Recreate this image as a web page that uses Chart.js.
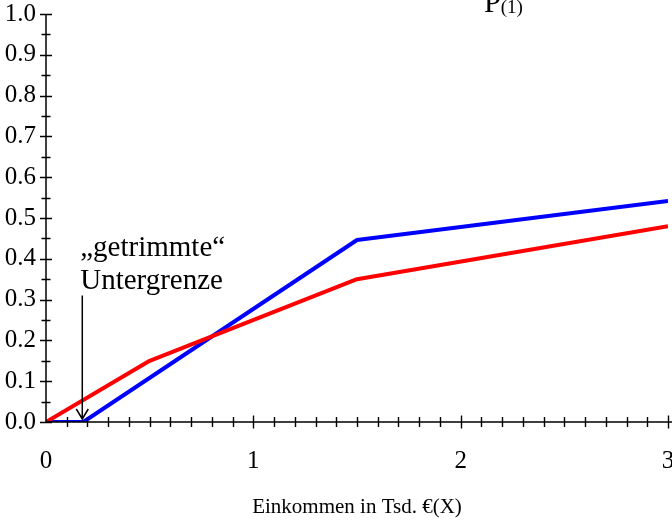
<!DOCTYPE html>
<html>
<head>
<meta charset="utf-8">
<script src="https://cdn.jsdelivr.net/npm/chart.js@4/dist/chart.umd.min.js"></script>
<style>
html,body{margin:0;padding:0;background:#fff;}
#wrap{width:672px;height:522px;position:relative;}
</style>
</head>
<body>
<div id="wrap"><canvas id="c" width="672" height="522"></canvas></div>
<script>
// ---- data ----
const redX  = [0, 0.5, 1.5, 3];
const redY  = [0, 0.15, 0.35, 0.48];
const blueX = [0, 0.18, 1.5, 3];
const blueY = [0, 0, 0.446, 0.542];
const xTickLabels = ['0', '1', '2', '3'];
const annotationLines = ['\u201Egetrimmte\u201C', 'Untergrenze'];
const axisTitleX = 'Einkommen in Tsd. \u20AC(X)';
const arrowX = 0.175, arrowTopY = 0.31;

const FONT = "'Liberation Serif', 'Times New Roman', serif";

const toPts = (xs, ys) => xs.map((x, i) => ({x: x, y: ys[i]}));

const decor = {
  id: 'decor',
  afterDraw(chart) {
    const ctx = chart.ctx;
    const xs = chart.scales.x, ys = chart.scales.y;
    const x0 = xs.getPixelForValue(0), y0 = ys.getPixelForValue(0);
    ctx.save();
    ctx.strokeStyle = '#000';
    ctx.lineWidth = 1.5;
    // axes
    ctx.beginPath();
    ctx.moveTo(x0, ys.getPixelForValue(1));
    ctx.lineTo(x0, y0);
    ctx.moveTo(x0, y0);
    ctx.lineTo(xs.getPixelForValue(3) + 4, y0);
    ctx.stroke();
    // y ticks
    ctx.lineWidth = 1.4;
    ctx.beginPath();
    for (let i = 0; i <= 20; i++) {
      const py = Math.round(ys.getPixelForValue(i * 0.05)) + 0.5;
      const len = (i % 2 === 0) ? 6 : 4.5;
      ctx.moveTo(x0 - len, py);
      ctx.lineTo(x0 + len, py);
    }
    // x ticks
    for (let i = 1; i <= 30; i++) {
      const px = Math.round(xs.getPixelForValue(i * 0.1)) + 0.5;
      const len = (i % 10 === 0) ? 6.5 : 5;
      ctx.moveTo(px, y0 - len);
      ctx.lineTo(px, y0 + len);
    }
    ctx.stroke();
    // arrow
    const ax = xs.getPixelForValue(arrowX);
    const aTop = ys.getPixelForValue(arrowTopY);
    const aTip = y0 - 3;
    ctx.lineWidth = 1.5;
    ctx.beginPath();
    ctx.moveTo(ax, aTop);
    ctx.lineTo(ax, aTip);
    ctx.moveTo(ax - 6, aTip - 10);
    ctx.lineTo(ax, aTip);
    ctx.lineTo(ax + 6, aTip - 10);
    ctx.stroke();
    // annotation text
    ctx.fillStyle = '#000';
    ctx.textAlign = 'left';
    ctx.textBaseline = 'alphabetic';
    ctx.font = '29px ' + FONT;
    const tx = xs.getPixelForValue(0.165);
    ctx.fillText(annotationLines[0], tx, ys.getPixelForValue(0.407));
    ctx.fillText(annotationLines[1], tx, ys.getPixelForValue(0.326));
    // title P(1)
    const px = xs.getPixelForValue(2.113);
    const pb = ys.getPixelForValue(1.005);
    ctx.font = '30px ' + FONT;
    ctx.fillText('P', px, pb);
    const pw = ctx.measureText('P').width;
    ctx.font = '19px ' + FONT;
    ctx.fillText('(1)', px + pw, pb + 1);
    ctx.restore();
  }
};

new Chart(document.getElementById('c'), {
  type: 'line',
  data: {
    datasets: [
      { data: toPts(redX, redY), borderColor: '#ff0000', borderWidth: 4, pointRadius: 0, tension: 0, fill: false, borderJoinStyle: 'round' },
      { data: toPts(blueX, blueY), borderColor: '#0000ff', borderWidth: 4, pointRadius: 0, tension: 0, fill: false, borderJoinStyle: 'round' }
    ]
  },
  options: {
    responsive: false,
    animation: false,
    events: [],
    layout: { padding: { top: 14, right: 4, left: 0, bottom: 0 } },
    plugins: { legend: { display: false }, tooltip: { enabled: false }, title: { display: false } },
    scales: {
      x: {
        type: 'linear', min: 0, max: 3,
        grid: { display: false, drawTicks: false },
        border: { display: false },
        ticks: {
          stepSize: 1, color: '#000', padding: 24, maxRotation: 0,
          font: { family: FONT, size: 25 },
          callback: (v) => xTickLabels[Math.round(v)] ?? ''
        },
        title: { display: true, text: axisTitleX, color: '#000', font: { family: FONT, size: 21 }, padding: { top: 0, bottom: 2 } },
        afterFit(s) { s.height = 100; s.paddingLeft = 0; s.paddingRight = 0; }
      },
      y: {
        type: 'linear', min: 0, max: 1,
        grid: { display: false, drawTicks: false },
        border: { display: false },
        ticks: {
          stepSize: 0.1, color: '#000', padding: 10,
          font: { family: FONT, size: 25 },
          callback: (v) => Number(v).toFixed(1)
        },
        afterFit(s) { s.width = 46; s.paddingTop = 0; s.paddingBottom = 0; }
      }
    }
  },
  plugins: [decor]
});
</script>
</body>
</html>
